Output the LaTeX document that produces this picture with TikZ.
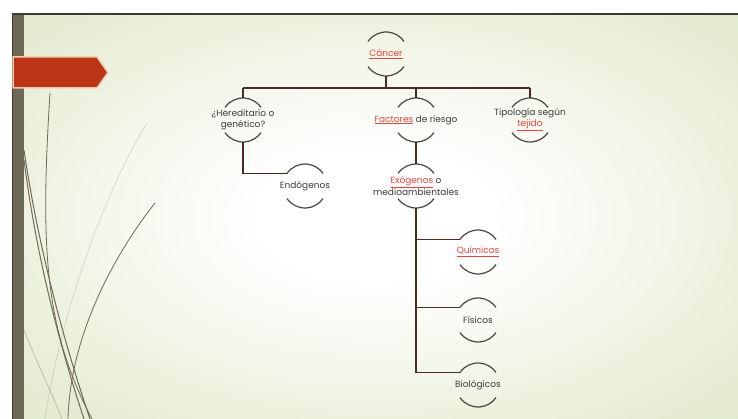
\documentclass[tikz,border=0pt]{standalone}
\usepackage{fontspec}
\setmainfont{Poppins}
\definecolor{bgg}{HTML}{DDE6C3}
\definecolor{barcol}{HTML}{6E6856}
\definecolor{bordercol}{HTML}{3A3A36}
\definecolor{bannerfill}{HTML}{BE3418}
\definecolor{bannerglow}{HTML}{F3CDB0}
\definecolor{curvecol}{HTML}{6F6A55}
\definecolor{arccol}{HTML}{4E4540}
\definecolor{conncol}{HTML}{4A2C24}
\definecolor{txtcol}{HTML}{3C3C3C}
\definecolor{redt}{HTML}{E8453C}
\pgfdeclareradialshading{slidebg}{\pgfpoint{0bp}{0bp}}{color(0bp)=(white); color(8bp)=(white); color(40bp)=(bgg); color(50bp)=(bgg)}
\newcommand{\rl}[1]{{\color{redt}\underline{#1}}}
\newcommand{\halfc}[1]{%
  \draw[arcst] (#1.145) arc[start angle=145,end angle=35,radius=22pt];
  \draw[arcst] (#1.215) arc[start angle=215,end angle=325,radius=22pt];}
\tikzset{
  ring/.style={circle,minimum size=44pt,inner sep=0pt,outer sep=0pt},
  lbl/.style={align=center,inner sep=0pt,text=txtcol,font=\fontsize{9}{11}\selectfont},
  arcst/.style={draw=arccol,line width=1.2pt},
  conn/.style={draw=conncol,line width=1.1pt},
  curve/.style={draw=curvecol,line width=0.8pt}
}
\begin{document}
\begin{tikzpicture}[x=1pt,y=1pt]
\useasboundingbox (0,0) rectangle (738,-419);
\fill[white] (0,0) rectangle (738,-419);
\shade[shading=slidebg] (12,-14) rectangle (738,-419);
% decorative curves
\draw[curve,opacity=0.2] (147,-123) .. controls (100,-200) and (60,-320) .. (45,-419);
\draw[curve,opacity=0.35] (24,-330) .. controls (40,-370) and (55,-400) .. (62,-419);
\draw[curve] (50,-93) .. controls (40,-250) and (45,-330) .. (92,-419);
\draw[curve,line width=1pt] (24,-150) .. controls (40,-260) and (70,-360) .. (90,-419);
\draw[curve,line width=1pt] (24,-160) .. controls (38,-270) and (66,-365) .. (84,-419);
\draw[curve] (155,-203) .. controls (110,-260) and (70,-340) .. (68,-419);
% slide frame
\fill[barcol] (12,-14) rectangle (24,-419);
\draw[bordercol,line width=1.2pt] (12,-14) -- (738,-14);
\draw[bordercol,line width=1pt] (12,-14) -- (12,-419);
% banner
\draw[bannerglow,line width=1.5pt,fill=bannerfill] (13,-57) -- (97,-57) -- (108,-72.5) -- (97,-88) -- (13,-88) -- cycle;
% rings
\node[ring] (can) at (386,-54) {};
\node[ring] (her) at (243,-120) {};
\node[ring] (fac) at (416,-120) {};
\node[ring] (tip) at (530,-120) {};
\node[ring] (endo) at (305,-186) {};
\node[ring] (exo) at (416,-186) {};
\node[ring] (qui) at (478,-252) {};
\node[ring] (fis) at (478,-320) {};
\node[ring] (bio) at (478,-385) {};
\foreach \n in {can,her,fac,tip,endo,exo,qui,fis,bio}{\halfc{\n}}
% labels
\node[lbl] (cant) at (can) {\rl{Cáncer}};
\node[lbl] (hert) at (her) {¿Hereditario o\\genético?};
\node[lbl] (fact) at (fac) {\rl{Factores} de riesgo};
\node[lbl] (tipt) at (tip) {Tipología según\\\rl{tejido}};
\node[lbl] (endot) at (endo) {Endógenos};
\node[lbl] (exot) at (exo) {\rl{Exógenos} o\\medioambientales};
\node[lbl] (quit) at (qui) {\rl{Químicos}};
\node[lbl] (fist) at (fis) {Físicos};
\node[lbl] (biot) at (bio) {Biológicos};
% connectors
\coordinate (bar) at (386,-88);
\draw[conn] (can.south) -- (can.south |- bar);
\draw[conn] (her.north |- bar) -- (tip.north |- bar);
\draw[conn] (her.north |- bar) -- (her.north);
\draw[conn] (fac.north |- bar) -- (fac.north);
\draw[conn] (tip.north |- bar) -- (tip.north);
\draw[conn] (her.south) |- (endo.145);
\draw[conn] (fac.south) -- (exo.north);
\draw[conn] (exo.south) |- (bio.145);
\draw[conn] (exo.south |- qui.145) -- (qui.145);
\draw[conn] (exo.south |- fis.145) -- (fis.145);
\end{tikzpicture}
\end{document}
